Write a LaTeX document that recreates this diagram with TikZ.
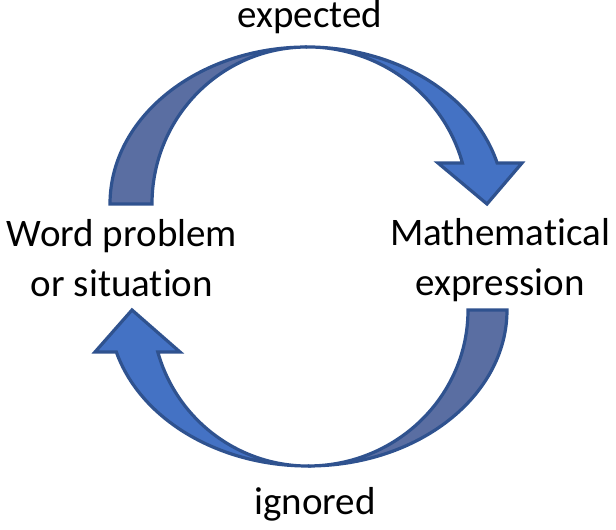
\documentclass[tikz,border=0pt]{standalone}
\usepackage{fontspec}
\setmainfont{Carlito}[Ligatures=NoCommon]
\definecolor{arrowblue}{HTML}{4472C4}
\definecolor{arrowback}{HTML}{5A6EA2}
\definecolor{arrowline}{HTML}{2F528F}
\begin{document}
\begin{tikzpicture}[
  x=1pt, y=1pt,
  front/.style={fill=arrowblue, draw=arrowline, line width=3.2pt, line join=miter},
  back/.style={fill=arrowback, draw=arrowline, line width=3.2pt, line join=miter},
  lbl/.style={font=\fontsize{39}{50}\selectfont, align=center, inner sep=0pt, anchor=base}
]
\useasboundingbox (0,0) rectangle (616,530);
\draw[back] (110,326) arc[start angle=180, end angle=90, x radius=197, y radius=157]
  arc[start angle=90, end angle=180, x radius=155, y radius=157] -- cycle;
\draw[front] (307,483) arc[start angle=90, end angle=15.1, x radius=197, y radius=157]
  -- (522,367) -- (487,326) -- (438,367) -- (462.4,367)
  arc[start angle=15.1, end angle=90, x radius=161, y radius=157] -- cycle;
\draw[back] (507,220) arc[start angle=0, end angle=-90, x radius=199, y radius=156]
  arc[start angle=-90, end angle=0, x radius=160, y radius=156] -- cycle;
\draw[front] (308,64) arc[start angle=-90, end angle=-164.4, x radius=199, y radius=156]
  -- (95,178) -- (132,220) -- (180,178) -- (157.8,178)
  arc[start angle=-164.4, end angle=-90, x radius=156, y radius=156] -- cycle;
\node[lbl] (expected) at (310,502) {expected};
\node[lbl] (ignored) at (315,15) {ignored};
\node[lbl] (word) at (122,233) {Word problem\\or situation};
\node[lbl] (math) at (500,234) {Mathematical\\expression};
\end{tikzpicture}
\end{document}
